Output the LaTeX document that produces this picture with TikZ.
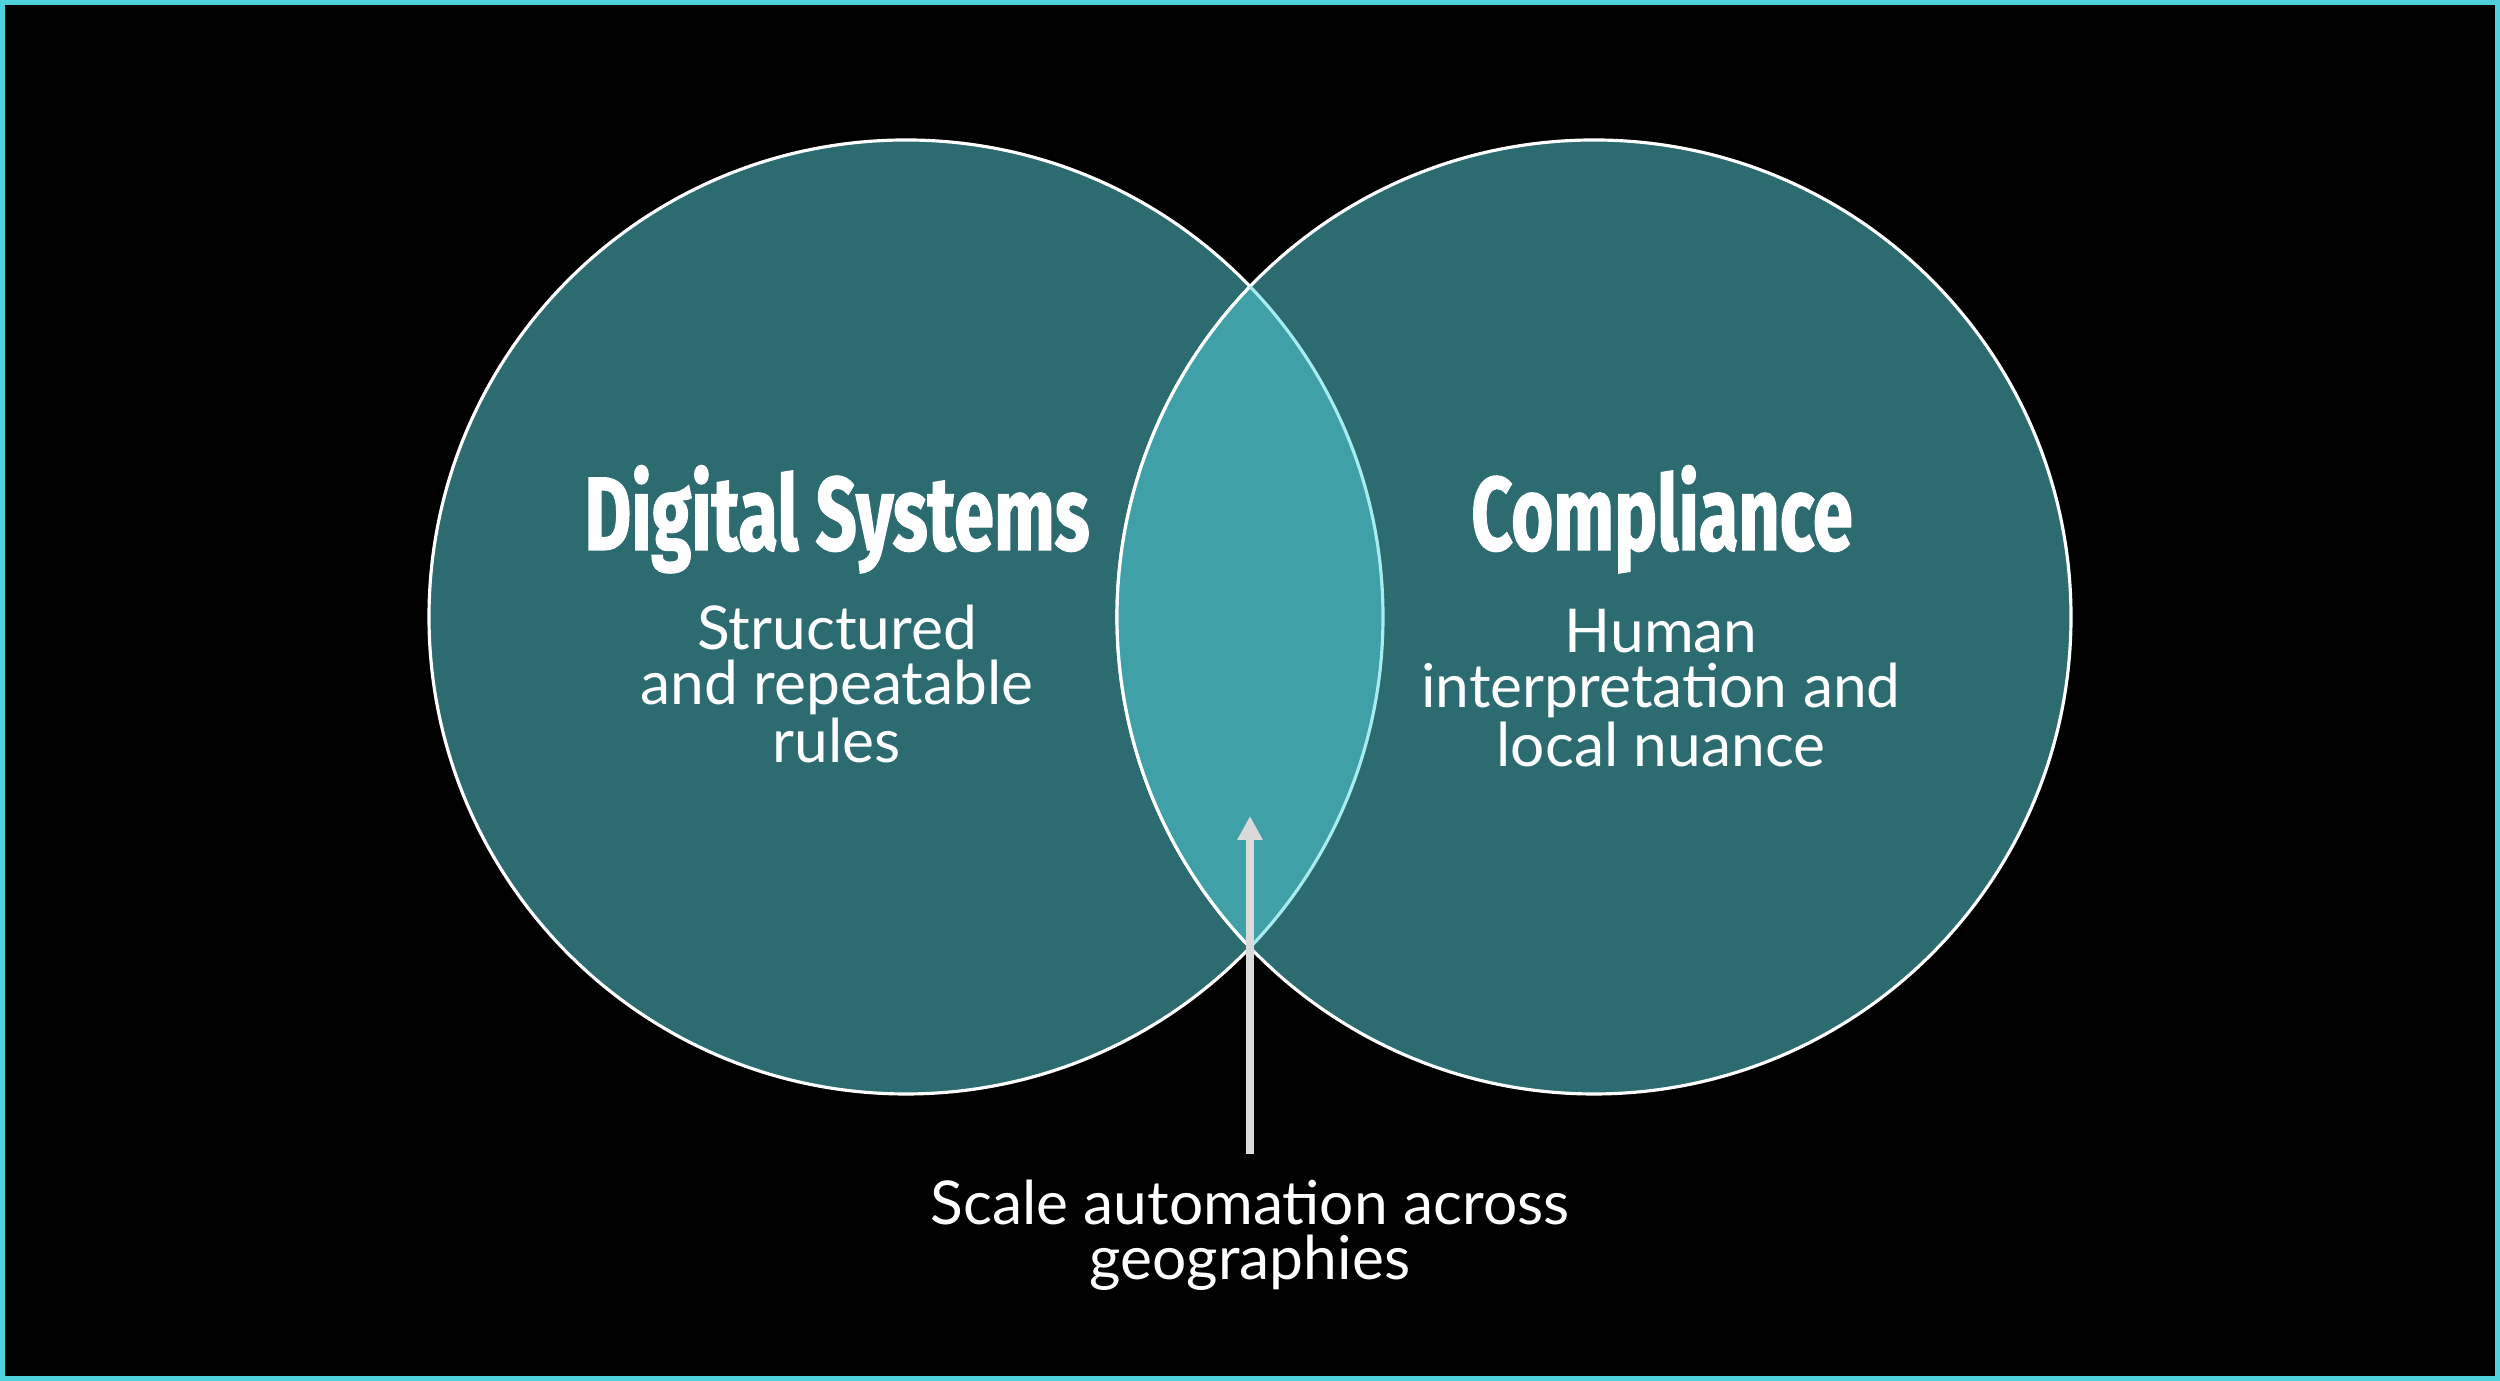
\documentclass[tikz,border=0pt]{standalone}
\usepackage{fontspec}
\setmainfont{Lato}
\newfontfamily\headfont[FakeStretch=0.69,FakeBold=1.2]{Fira Sans}
\usetikzlibrary{arrows.meta}
\tikzset{>=latex}
\definecolor{tealdark}{HTML}{2C6B70}
\definecolor{teallens}{HTML}{40A0A8}
\definecolor{lensedge}{HTML}{A6ECF0}
\definecolor{framecyan}{HTML}{4FD1DC}
\definecolor{arrowgray}{HTML}{DADADA}

\begin{document}
\begin{tikzpicture}
    \tikzstyle{circ}=[fill=tealdark,draw=white,line width=0.9pt];
    \tikzstyle{title}=[text=white,inner sep=0pt,font=\headfont\bfseries\fontsize{29.7}{32}\selectfont];
    \tikzstyle{body}=[text=white,inner sep=0pt,align=center,font=\fontsize{17.2}{15.6}\selectfont];
    \useasboundingbox (0,0) rectangle (25,13.81);
    \fill[black] (0,0) rectangle (25,13.81);
    \draw[framecyan,line width=0.05cm] (0.025,0.025) rectangle (24.975,13.785);
    \coordinate (digital) at (9.06,7.64);
    \coordinate (compliance) at (15.94,7.64);
    \path[circ] (digital) circle(4.77);
    \path[circ] (compliance) circle(4.77);
    % overlap
    \begin{scope}
      \clip (digital) circle(4.77);
      \fill[teallens] (compliance) circle(4.77);
      \draw[white,line width=0.9pt] (compliance) circle(4.77);
    \end{scope}
    \begin{scope}
      \clip (compliance) circle(4.77);
      \draw[lensedge,line width=0.9pt] (digital) circle(4.77);
    \end{scope}
    \node[title,anchor=base] (digitalTitle) at (8.37,8.31) {Digital Systems};
    \node[body,anchor=north] (digitalText) at (8.37,7.77) {Structured\\and repeatable\\rules};
    \node[title,anchor=base] (complianceTitle) at (16.62,8.31) {Compliance};
    \node[body,anchor=north] (complianceText) at (16.61,7.72) {Human\\interpretation and\\local nuance};
    \node[body,anchor=north] (scale) at (12.5,2.02) {Scale automation across\\geographies};
    \coordinate (arrowBase) at (12.5,2.27);
    \coordinate (arrowTip) at (12.5,5.65);
    \draw[arrowgray,line width=0.08cm,-{Triangle[width=0.24cm,length=0.24cm]}] (arrowBase) -- (arrowTip);
\end{tikzpicture}
\end{document}
